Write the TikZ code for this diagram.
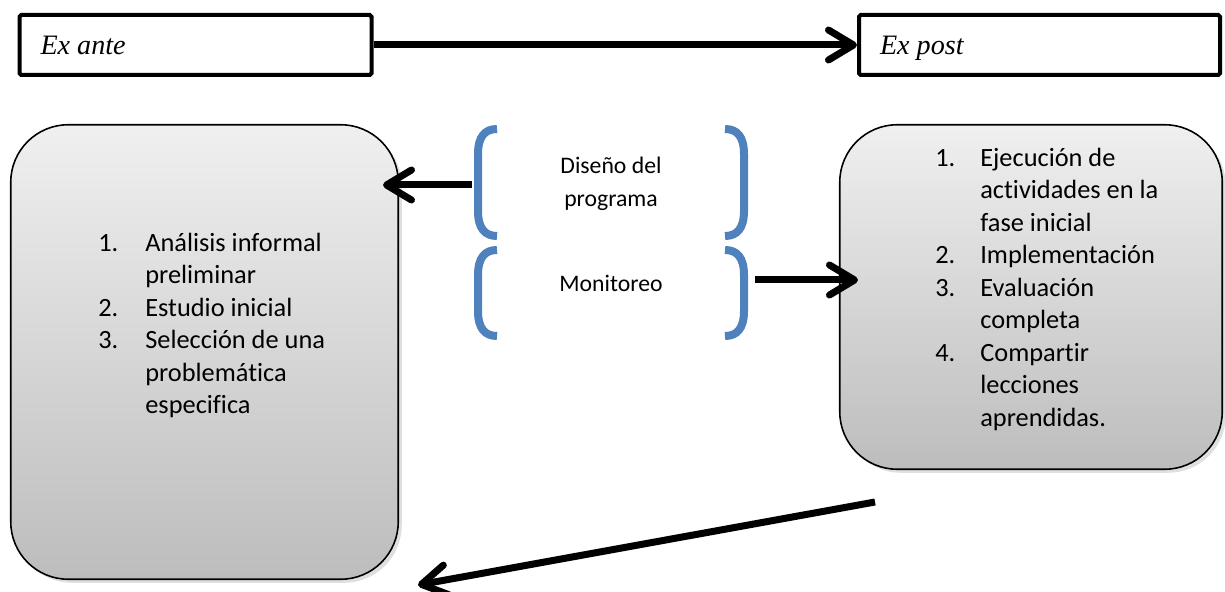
\documentclass[tikz,border=0pt]{standalone}
\usepackage{fontspec}
\setmainfont{Carlito}[Ligatures=CommonOff]
\newfontfamily\timesfont{Liberation Serif}
\usetikzlibrary{arrows.meta, positioning, shadows}
\definecolor{braceblue}{HTML}{4F81BD}

\begin{document}
\begin{tikzpicture}[
phase/.style={
rectangle,
rounded corners=1pt,
draw,
line width=0.08cm,
minimum height=1.2cm,
inner xsep=0.42cm,
text height=0.5cm,
text depth=0.1cm,
font=\timesfont\itshape\fontsize{16}{19}\selectfont
},
stagebox/.style={
rectangle,
rounded corners=1.15cm,
draw,
line width=0.9pt,
top color=black!6,
bottom color=black!26,
drop shadow={shadow xshift=2pt,shadow yshift=-2pt,opacity=0.25}
},
steps/.style={
inner sep=0pt,
anchor=north west,
font=\fontsize{15}{18.5}\selectfont
},
midtext/.style={align=center, font=\fontsize{13.5}{18.7}\selectfont},
arrow/.style={-{Straight Barb[length=0.5cm,width=0.6cm,round]}, line width=0.14cm},
bracket/.style={draw=braceblue, line width=0.16cm}
]

\useasboundingbox (0,0) rectangle (24.5,-11.84);

% Ex ante / Ex post
\node[phase] (exante) at (3.91,-0.9) {\makebox[6.2cm][l]{Ex ante}};
\node[phase] (expost) at (20.79,-0.9) {\makebox[6.38cm][l]{Ex post}};
\draw[arrow] (exante) -- (expost);

% Stage boxes
\node[stagebox, minimum width=7.75cm, minimum height=9.09cm] (before) at (4.09,-7.04) {};
\node[stagebox, minimum width=7.65cm, minimum height=6.89cm] (after) at (20.62,-5.94) {};

\node[steps] (beforelist) at (1.96,-4.56) {\begin{tabular}{@{}p{0.94cm}@{}l@{}}
1. & Análisis informal\\
   & preliminar\\
2. & Estudio inicial\\
3. & Selección de una\\
   & problemática\\
   & especifica
\end{tabular}};

\node[steps] (afterlist) at (18.7,-2.86) {\begin{tabular}{@{}p{0.9cm}@{}l@{}}
1. & Ejecución de\\
   & actividades en la\\
   & fase inicial\\
2. & Implementación\\
3. & Evaluación\\
   & completa\\
4. & Compartir\\
   & lecciones\\
   & aprendidas.
\end{tabular}};

% Middle
\node[midtext] (design) at (12.22,-3.67) {Diseño del\\programa};
\node[midtext] (monitor) at (12.22,-5.66) {Monitoreo};

\foreach \t/\b in {-2.58/-4.72,-5.0/-6.72} {
\draw[bracket] (9.94,\t) .. controls (9.7,\t) and (9.56,\t-0.15) .. (9.56,\t-0.5) -- (9.56,\b+0.5) .. controls (9.56,\b+0.15) and (9.7,\b) .. (9.94,\b);
\draw[bracket] (14.5,\t) .. controls (14.74,\t) and (14.88,\t-0.15) .. (14.88,\t-0.5) -- (14.88,\b+0.5) .. controls (14.88,\b+0.15) and (14.74,\b) .. (14.5,\b);
}

% Arrows
\coordinate (designtail) at (9.44,-3.7);
\coordinate (designhead) at (7.66,-3.7);
\coordinate (monitortail) at (15.1,-5.6);
\coordinate (monitorhead) at (17.16,-5.6);
\coordinate (backtail) at (17.5,-10.04);
\coordinate (backhead) at (8.36,-11.7);

\draw[arrow] (designtail) -- (designhead);
\draw[arrow] (monitortail) -- (monitorhead);
\draw[arrow] (backtail) -- (backhead);

\end{tikzpicture}
\end{document}
